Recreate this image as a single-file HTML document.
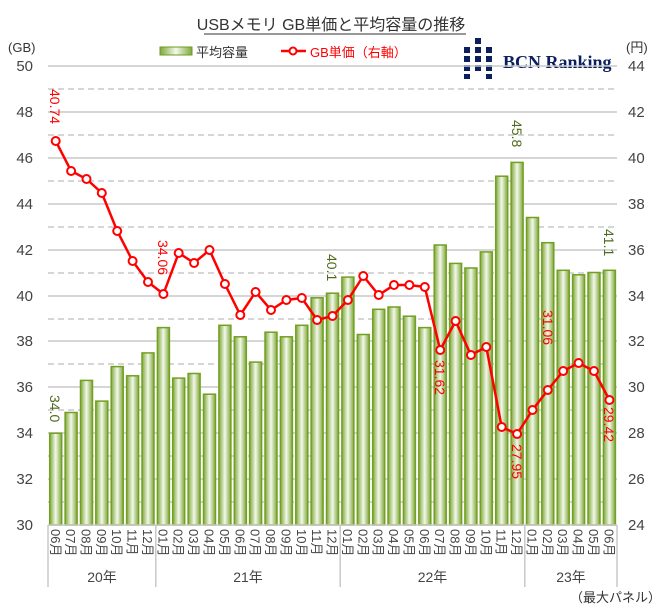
<!DOCTYPE html>
<html><head><meta charset="utf-8"><style>
body{margin:0;background:#fff}
svg{display:block;font-family:"Liberation Sans","Noto Sans CJK JP",sans-serif}
</style></head><body>
<svg width="662" height="614" viewBox="0 0 662 614">
<defs>
<linearGradient id="bg" x1="0" x2="1" y1="0" y2="0">
<stop offset="0" stop-color="#7ea83a"/><stop offset="0.5" stop-color="#f3f8ea"/><stop offset="1" stop-color="#7ea83a"/>
</linearGradient>
</defs>
<text x="331" y="30" font-size="16" text-anchor="middle" fill="#333">USBメモリ  GB単価と平均容量の推移</text>
<line x1="204" y1="34" x2="466" y2="34" stroke="#333" stroke-width="1"/>
<text x="8" y="52" font-size="13" fill="#333">(GB)</text>
<text x="626" y="52" font-size="13" fill="#333">(円)</text>
<rect x="160" y="47" width="32" height="8" fill="url(#bg)" stroke="#6f9a20"/>
<text x="196" y="57" font-size="13" fill="#333">平均容量</text>
<line x1="281" y1="51" x2="306" y2="51" stroke="#f00" stroke-width="2.5"/>
<circle cx="293" cy="51" r="3.5" fill="#fff" stroke="#f00" stroke-width="2"/>
<text x="310" y="57" font-size="13" fill="#f00">GB単価（右軸）</text>
<g fill="#0a1f5c">
<rect x="475" y="38" width="6" height="6"/>
<rect x="464" y="47" width="6" height="6"/><rect x="475" y="47" width="6" height="6"/><rect x="486" y="47" width="6" height="6"/>
<rect x="464" y="56" width="6" height="6"/><rect x="475" y="56" width="6" height="6"/><rect x="486" y="56" width="6" height="6"/>
<rect x="464" y="65" width="6" height="6"/><rect x="475" y="65" width="6" height="6"/><rect x="486" y="65" width="6" height="6"/>
<rect x="464" y="74" width="6" height="5"/><rect x="486" y="74" width="6" height="5"/>
</g>
<text x="503" y="68" font-size="18" font-weight="bold" font-family="Liberation Serif,serif" fill="#0a1f5c">BCN Ranking</text>
<g stroke="#c8c8c8" stroke-width="1.5">
<line x1="48" y1="66" x2="617" y2="66"/><line x1="48" y1="112" x2="617" y2="112"/><line x1="48" y1="158" x2="617" y2="158"/><line x1="48" y1="204" x2="617" y2="204"/><line x1="48" y1="250" x2="617" y2="250"/><line x1="48" y1="296" x2="617" y2="296"/><line x1="48" y1="341" x2="617" y2="341"/><line x1="48" y1="387" x2="617" y2="387"/><line x1="48" y1="433" x2="617" y2="433"/><line x1="48" y1="479" x2="617" y2="479"/>
</g>
<g stroke="#c8c8c8" stroke-width="1.5" stroke-dasharray="6,4">
<line x1="48" y1="89" x2="617" y2="89"/><line x1="48" y1="135" x2="617" y2="135"/><line x1="48" y1="181" x2="617" y2="181"/><line x1="48" y1="227" x2="617" y2="227"/><line x1="48" y1="273" x2="617" y2="273"/><line x1="48" y1="319" x2="617" y2="319"/><line x1="48" y1="364" x2="617" y2="364"/><line x1="48" y1="410" x2="617" y2="410"/><line x1="48" y1="456" x2="617" y2="456"/><line x1="48" y1="502" x2="617" y2="502"/>
</g>
<g font-size="15" fill="#444" text-anchor="end">
<text x="33" y="71">50</text><text x="33" y="117">48</text><text x="33" y="163">46</text><text x="33" y="209">44</text><text x="33" y="255">42</text><text x="33" y="301">40</text><text x="33" y="346">38</text><text x="33" y="392">36</text><text x="33" y="438">34</text><text x="33" y="484">32</text><text x="33" y="530">30</text>
</g>
<g font-size="15" fill="#444">
<text x="628" y="71">44</text><text x="628" y="117">42</text><text x="628" y="163">40</text><text x="628" y="209">38</text><text x="628" y="255">36</text><text x="628" y="301">34</text><text x="628" y="346">32</text><text x="628" y="392">30</text><text x="628" y="438">28</text><text x="628" y="484">26</text><text x="628" y="530">24</text>
</g>
<g fill="url(#bg)" stroke="#72a020" stroke-width="1.5">
<rect x="49.7" y="433.2" width="12" height="91.8"/>
<rect x="65.1" y="412.5" width="12" height="112.5"/>
<rect x="80.5" y="380.4" width="12" height="144.6"/>
<rect x="95.8" y="401.1" width="12" height="123.9"/>
<rect x="111.2" y="366.6" width="12" height="158.4"/>
<rect x="126.6" y="375.8" width="12" height="149.2"/>
<rect x="142" y="352.9" width="12" height="172.1"/>
<rect x="157.4" y="327.6" width="12" height="197.4"/>
<rect x="172.7" y="378.1" width="12" height="146.9"/>
<rect x="188.1" y="373.5" width="12" height="151.5"/>
<rect x="203.5" y="394.2" width="12" height="130.8"/>
<rect x="218.9" y="325.3" width="12" height="199.7"/>
<rect x="234.3" y="336.8" width="12" height="188.2"/>
<rect x="249.6" y="362.1" width="12" height="162.9"/>
<rect x="265" y="332.2" width="12" height="192.8"/>
<rect x="280.4" y="336.8" width="12" height="188.2"/>
<rect x="295.8" y="325.3" width="12" height="199.7"/>
<rect x="311.1" y="297.8" width="12" height="227.2"/>
<rect x="326.5" y="293.2" width="12" height="231.8"/>
<rect x="341.9" y="277.1" width="12" height="247.9"/>
<rect x="357.3" y="334.5" width="12" height="190.5"/>
<rect x="372.7" y="309.3" width="12" height="215.7"/>
<rect x="388" y="307" width="12" height="218"/>
<rect x="403.4" y="316.2" width="12" height="208.8"/>
<rect x="418.8" y="327.6" width="12" height="197.4"/>
<rect x="434.2" y="245" width="12" height="280"/>
<rect x="449.6" y="263.4" width="12" height="261.6"/>
<rect x="464.9" y="268" width="12" height="257"/>
<rect x="480.3" y="251.9" width="12" height="273.1"/>
<rect x="495.7" y="176.2" width="12" height="348.8"/>
<rect x="511.1" y="162.4" width="12" height="362.6"/>
<rect x="526.5" y="217.5" width="12" height="307.5"/>
<rect x="541.8" y="242.7" width="12" height="282.3"/>
<rect x="557.2" y="270.3" width="12" height="254.7"/>
<rect x="572.6" y="274.8" width="12" height="250.2"/>
<rect x="588" y="272.5" width="12" height="252.5"/>
<rect x="603.4" y="270.3" width="12" height="254.7"/>
</g>
<line x1="48" y1="525" x2="617" y2="525" stroke="#c8c8c8" stroke-width="1.5"/>
<polyline fill="none" stroke="#f00" stroke-width="2.5" points="55.7,141 71.1,171 86.5,179 101.8,193 117.2,231 132.6,261 148,282 163.4,294 178.7,253 194.1,263 209.5,250 224.9,284 240.3,315 255.6,292 271,310 286.4,300 301.8,298 317.1,320 332.5,316 347.9,300 363.3,276 378.7,295 394,285 409.4,285 424.8,287 440.2,350 455.6,321 470.9,355 486.3,347 501.7,427 517.1,434 532.5,410 547.8,390 563.2,371 578.6,363 594,371 609.4,400"/>
<g fill="#fff" stroke="#f00" stroke-width="2">
<circle cx="55.7" cy="141" r="4"/><circle cx="71.1" cy="171" r="4"/><circle cx="86.5" cy="179" r="4"/><circle cx="101.8" cy="193" r="4"/><circle cx="117.2" cy="231" r="4"/><circle cx="132.6" cy="261" r="4"/><circle cx="148" cy="282" r="4"/><circle cx="163.4" cy="294" r="4"/><circle cx="178.7" cy="253" r="4"/><circle cx="194.1" cy="263" r="4"/><circle cx="209.5" cy="250" r="4"/><circle cx="224.9" cy="284" r="4"/><circle cx="240.3" cy="315" r="4"/><circle cx="255.6" cy="292" r="4"/><circle cx="271" cy="310" r="4"/><circle cx="286.4" cy="300" r="4"/><circle cx="301.8" cy="298" r="4"/><circle cx="317.1" cy="320" r="4"/><circle cx="332.5" cy="316" r="4"/><circle cx="347.9" cy="300" r="4"/><circle cx="363.3" cy="276" r="4"/><circle cx="378.7" cy="295" r="4"/><circle cx="394" cy="285" r="4"/><circle cx="409.4" cy="285" r="4"/><circle cx="424.8" cy="287" r="4"/><circle cx="440.2" cy="350" r="4"/><circle cx="455.6" cy="321" r="4"/><circle cx="470.9" cy="355" r="4"/><circle cx="486.3" cy="347" r="4"/><circle cx="501.7" cy="427" r="4"/><circle cx="517.1" cy="434" r="4"/><circle cx="532.5" cy="410" r="4"/><circle cx="547.8" cy="390" r="4"/><circle cx="563.2" cy="371" r="4"/><circle cx="578.6" cy="363" r="4"/><circle cx="594" cy="371" r="4"/><circle cx="609.4" cy="400" r="4"/>
</g>
<g font-size="14">
<text transform="translate(50,89) rotate(90)" fill="#f00">40.74</text>
<text transform="translate(50,395) rotate(90)" fill="#4f6a1c">34.0</text>
<text transform="translate(158,240) rotate(90)" fill="#f00">34.06</text>
<text transform="translate(327,254) rotate(90)" fill="#4f6a1c">40.1</text>
<text transform="translate(435,360) rotate(90)" fill="#f00">31.62</text>
<text transform="translate(512,120) rotate(90)" fill="#4f6a1c">45.8</text>
<text transform="translate(512,444) rotate(90)" fill="#f00">27.95</text>
<text transform="translate(543,310) rotate(90)" fill="#f00">31.06</text>
<text transform="translate(604,229) rotate(90)" fill="#4f6a1c">41.1</text>
<text transform="translate(604,407) rotate(90)" fill="#f00">29.42</text>
</g>
<g font-size="13" fill="#444">
<text transform="translate(51,529) rotate(90)">06月</text><text transform="translate(66.1,529) rotate(90)">07月</text><text transform="translate(81.5,529) rotate(90)">08月</text><text transform="translate(96.8,529) rotate(90)">09月</text><text transform="translate(112.2,529) rotate(90)">10月</text><text transform="translate(127.6,529) rotate(90)">11月</text><text transform="translate(143,529) rotate(90)">12月</text>
<text transform="translate(158.4,529) rotate(90)">01月</text><text transform="translate(173.7,529) rotate(90)">02月</text><text transform="translate(189.1,529) rotate(90)">03月</text><text transform="translate(204.5,529) rotate(90)">04月</text><text transform="translate(219.9,529) rotate(90)">05月</text><text transform="translate(235.3,529) rotate(90)">06月</text><text transform="translate(250.6,529) rotate(90)">07月</text><text transform="translate(266,529) rotate(90)">08月</text><text transform="translate(281.4,529) rotate(90)">09月</text><text transform="translate(296.8,529) rotate(90)">10月</text><text transform="translate(312.1,529) rotate(90)">11月</text><text transform="translate(327.5,529) rotate(90)">12月</text>
<text transform="translate(342.9,529) rotate(90)">01月</text><text transform="translate(358.3,529) rotate(90)">02月</text><text transform="translate(373.7,529) rotate(90)">03月</text><text transform="translate(389,529) rotate(90)">04月</text><text transform="translate(404.4,529) rotate(90)">05月</text><text transform="translate(419.8,529) rotate(90)">06月</text><text transform="translate(435.2,529) rotate(90)">07月</text><text transform="translate(450.6,529) rotate(90)">08月</text><text transform="translate(465.9,529) rotate(90)">09月</text><text transform="translate(481.3,529) rotate(90)">10月</text><text transform="translate(496.7,529) rotate(90)">11月</text><text transform="translate(512.1,529) rotate(90)">12月</text>
<text transform="translate(527.5,529) rotate(90)">01月</text><text transform="translate(542.8,529) rotate(90)">02月</text><text transform="translate(558.2,529) rotate(90)">03月</text><text transform="translate(573.6,529) rotate(90)">04月</text><text transform="translate(589,529) rotate(90)">05月</text><text transform="translate(604.4,529) rotate(90)">06月</text>
</g>
<g stroke="#c8c8c8" stroke-width="1.5">
<line x1="48" y1="525" x2="48" y2="587"/><line x1="155.8" y1="525" x2="155.8" y2="587"/><line x1="340.2" y1="525" x2="340.2" y2="587"/><line x1="524.8" y1="525" x2="524.8" y2="587"/><line x1="617" y1="525" x2="617" y2="587"/>
</g>
<g font-size="14" fill="#444" text-anchor="middle">
<text x="102" y="582">20年</text><text x="248" y="582">21年</text><text x="432.5" y="582">22年</text><text x="571" y="582">23年</text>
</g>
<text x="570" y="602" font-size="13" fill="#333">（最大パネル）</text>
</svg>
</body></html>
